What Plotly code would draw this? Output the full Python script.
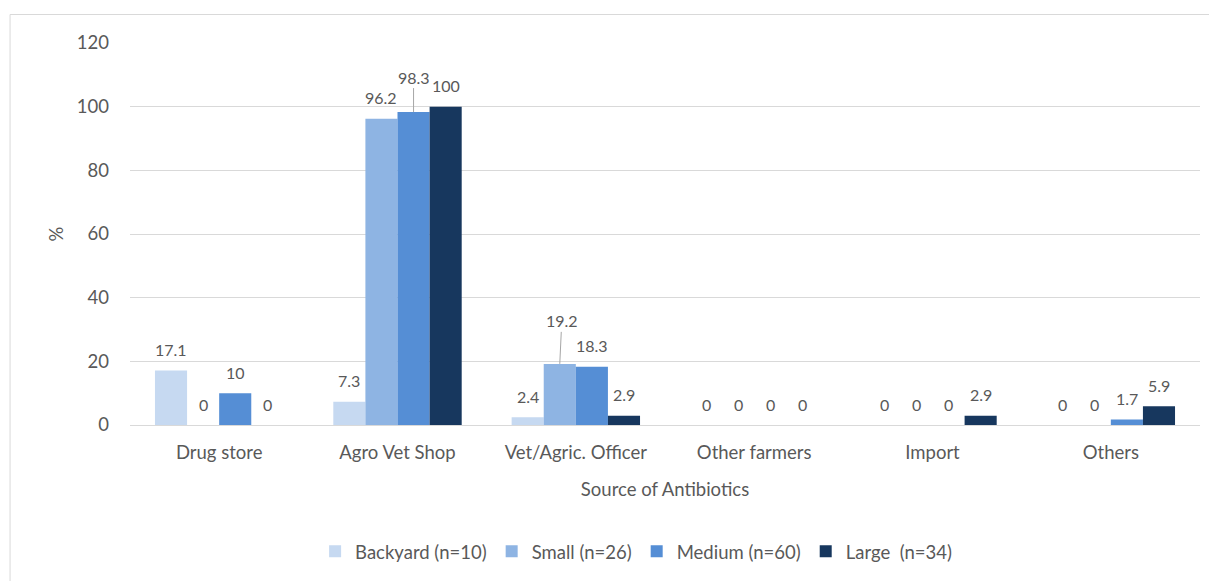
import plotly.graph_objects as go

categories = ["Drug store", "Agro Vet Shop", "Vet/Agric. Officer", "Other farmers", "Import", "Others"]
backyard = [17.1, 7.3, 2.4, 0, 0, 0]
small = [0, 96.2, 19.2, 0, 0, 0]
medium = [10, 98.3, 18.3, 0, 0, 1.7]
large = [0, 100, 2.9, 0, 2.9, 5.9]
series_names = ["Backyard (n=10)", "Small (n=26)", "Medium (n=60)", "Large  (n=34)"]
colors = ["#C6D9F1", "#8EB4E3", "#558ED5", "#17375E"]
y_ticks = [0, 20, 40, 60, 80, 100, 120]

FONT = "Lato"
TXT = "#595959"
AXFS = 18.5
LBLFS = 16

# layout geometry (pixels)
W, H = 1217, 581
ML, MR, MT, MB = 122, 25, 35, 164
BARGAP = 0.28
plot_w = W - ML - MR
bar_px = plot_w / len(categories) * (1 - BARGAP) / 4
offsets = [-1.5, -0.5, 0.5, 1.5]
# labels drawn with leader lines: (series, category) -> (ax, ay)
leader = {(2, 1): (0, -35), (1, 2): (2, -43)}

fig = go.Figure()
all_series = [backyard, small, medium, large]
for si, (name, vals, col) in enumerate(zip(series_names, all_series, colors)):
    fig.add_trace(go.Bar(
        x=categories, y=vals, name=name, marker=dict(color=col, line=dict(width=0)),
    ))

for si, vals in enumerate(all_series):
    for ci, v in enumerate(vals):
        common = dict(x=categories[ci], y=v, xref="x", yref="y", xshift=offsets[si] * bar_px,
                      text=f"{v:g}", font=dict(family=FONT, size=LBLFS, color=TXT))
        if (si, ci) in leader:
            ax, ay = leader[(si, ci)]
            fig.add_annotation(**common, showarrow=True, arrowhead=0, arrowwidth=1,
                               arrowcolor="#A6A6A6", ax=ax, ay=ay, standoff=0)
        else:
            fig.add_annotation(**common, showarrow=False, yanchor="middle", yshift=21)

fig.add_shape(type="rect", xref="paper", yref="paper", x0=-0.1121, x1=1.2, y0=-0.6, y1=1.0746,
              line=dict(color="#D9D9D9", width=1), fillcolor="rgba(0,0,0,0)", layer="below")

fig.update_layout(
    width=W, height=H,
    margin=dict(l=ML, r=MR, t=MT, b=MB),
    paper_bgcolor="white", plot_bgcolor="white",
    barmode="group", bargap=BARGAP, bargroupgap=0,
    font=dict(family=FONT, size=AXFS, color=TXT),
    showlegend=True,
    legend=dict(orientation="h", x=0.473, xanchor="center", y=-0.332, yanchor="middle",
                font=dict(family=FONT, size=AXFS, color=TXT), itemwidth=30, traceorder="normal"),
    xaxis=dict(title=dict(text="Source of Antibiotics", font=dict(size=AXFS, color=TXT), standoff=20),
               tickfont=dict(size=AXFS, color=TXT), showline=True, linecolor="#D9D9D9",
               ticks="", showgrid=False, ticklabelstandoff=11),
    yaxis=dict(title=dict(text="%", font=dict(size=AXFS, color=TXT), standoff=8),
               range=[0, 120], tickvals=y_ticks, tickfont=dict(size=AXFS, color=TXT),
               showgrid=True, gridcolor="#D9D9D9", zeroline=False, ticks="",
               ticklabelstandoff=20),
)

fig.write_html("out.html")
